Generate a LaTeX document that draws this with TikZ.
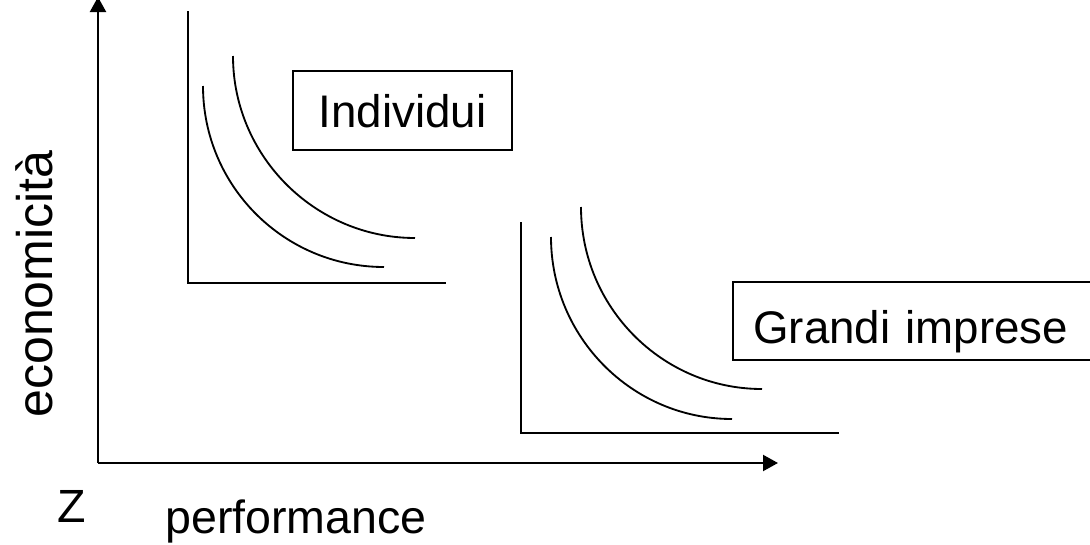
\documentclass[tikz,border=0pt]{standalone}
\usepackage{fontspec}
\setmainfont{Liberation Sans}
\usetikzlibrary{arrows.meta}
\begin{document}
\begin{tikzpicture}[x=0.02cm,y=-0.02cm,
  axis/.style={line width=1.2pt,-{Triangle[length=0.3cm,width=0.32cm]}},
  subaxis/.style={line width=1.2pt},
  curve/.style={line width=1.05pt},
  lbl/.style={font=\fontsize{26.5}{30}\selectfont},
  box/.style={draw,line width=1.2pt,inner ysep=0pt,font=\fontsize{26}{30}\selectfont},
  openbox/.style={inner ysep=0pt,font=\fontsize{26}{30}\selectfont}]
\useasboundingbox (0,0) rectangle (1090,545);
% main axes
\coordinate (O) at (98,463);
\coordinate (Ytip) at (98,-3);
\coordinate (Xtip) at (778,463);
\draw[axis] (O) -- (Ytip);
\draw[axis] (O) -- (Xtip);
% sub plot 1
\coordinate (A1) at (188,11);
\coordinate (O1) at (188,283);
\coordinate (X1) at (446,283);
\draw[subaxis] (A1) -- (O1) -- (X1);
\coordinate (c1s) at (203,86);  \coordinate (c1e) at (384,267);
\coordinate (c2s) at (233,56);  \coordinate (c2e) at (415,238);
\draw[curve] (c1s) .. controls (203,186) and (284,267) .. (c1e);
\draw[curve] (c2s) .. controls (233,156) and (315,238) .. (c2e);
% sub plot 2
\coordinate (A2) at (521,222);
\coordinate (O2) at (521,433);
\coordinate (X2) at (839,433);
\draw[subaxis] (A2) -- (O2) -- (X2);
\coordinate (c3s) at (551,237);  \coordinate (c3e) at (732,419);
\coordinate (c4s) at (581,207);  \coordinate (c4e) at (762,389);
\draw[curve] (c3s) .. controls (551,337) and (632,419) .. (c3e);
\draw[curve] (c4s) .. controls (581,307) and (662,389) .. (c4e);
% boxes
\node[box,anchor=base,inner xsep=0pt,minimum width=4.38cm,text height=1.12cm,text depth=0.46cm] (ind) at (402.5,127) {Individui};
\node[openbox,anchor=base west,inner xsep=0.4cm,text width=7.4cm,align=left,text height=1.22cm,text depth=0.34cm] (gi) at (733,343) {Grandi imprese};
\draw[line width=1.2pt] (gi.north east) -- (gi.north west) -- (gi.south west) -- (gi.south east);
% labels
\node[lbl,anchor=base,rotate=90,font=\fontsize{28.5}{32}\selectfont] (econ) at (52,284) {economicità};
\node[lbl,anchor=base west,inner sep=0pt] (z) at (57,522) {Z};
\node[lbl,anchor=base west,inner sep=0pt] (perf) at (165,533) {performance};
\end{tikzpicture}
\end{document}
